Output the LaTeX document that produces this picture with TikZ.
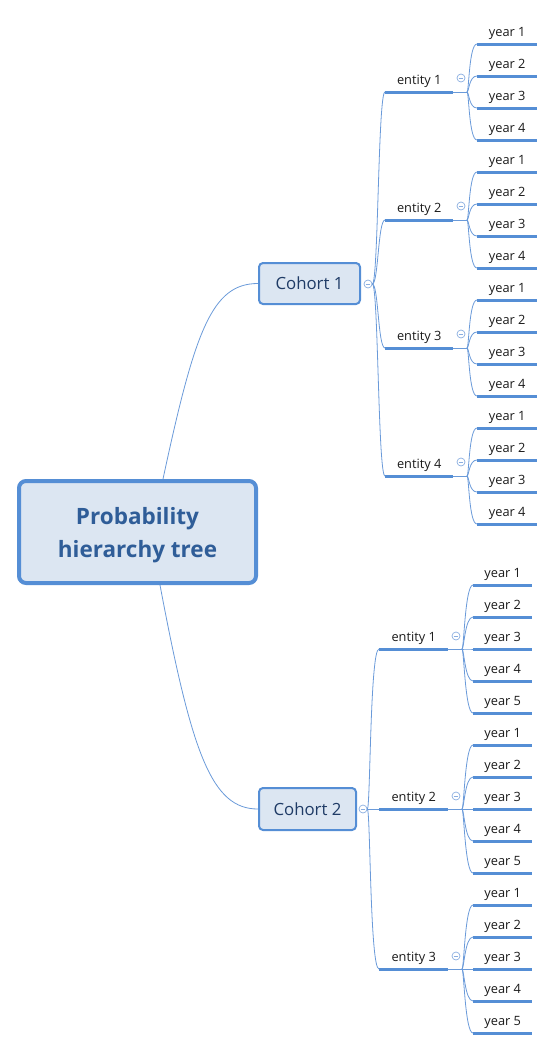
\documentclass[tikz,border=0pt]{standalone}
\usepackage{fontspec}
\setmainfont{Open Sans}
\definecolor{lnc}{HTML}{6A9AD9}
\definecolor{ulc}{HTML}{558ED5}
\definecolor{boxfill}{HTML}{DCE6F2}
\definecolor{bdc}{HTML}{558ED5}
\definecolor{roottxt}{HTML}{2F5D98}
\definecolor{cotxt}{HTML}{1F3B66}
\definecolor{btnc}{HTML}{8AAEE0}
\definecolor{txtc}{HTML}{1A1A1A}
\tikzset{
  rootbox/.style={draw=bdc, line width=4pt, fill=boxfill, rounded corners=7pt,
    minimum width=237pt, minimum height=102pt, inner sep=0pt, align=center,
    text=roottxt, font=\fontsize{22.5}{33}\selectfont\bfseries},
  cobox/.style={draw=bdc, line width=2pt, fill=boxfill, rounded corners=4pt,
    minimum height=41pt, inner sep=0pt, text=cotxt, font=\fontsize{16.8}{18}\selectfont},
  topic/.style={inner xsep=0pt, inner ysep=7.8pt, text height=9pt, text depth=0pt,
    text=txtc, font=\fontsize{12.8}{14}\selectfont, anchor=south west},
  ul/.style={draw=ulc, line width=3pt},
  conn/.style={draw=lnc, line width=0.8pt},
  btn/.style={circle, draw=btnc, fill=white, line width=0.7pt, minimum size=8pt, inner sep=0pt,
    path picture={\draw[btnc, line width=0.7pt] ([xshift=-2.3pt]path picture bounding box.center) -- ([xshift=2.3pt]path picture bounding box.center);}},
}
\begin{document}
\begin{tikzpicture}[x=1pt,y=-1pt]
\useasboundingbox (0,0) rectangle (555,1050);

% root
\node[rootbox] (root) at (137.5,532) {\rule{0pt}{24pt}Probability\\hierarchy tree};

% cohorts
\node[cobox, minimum width=101pt] (c1) at (309.5,283.5) {Cohort 1};
\node[cobox, minimum width=97pt, minimum height=42pt] (c2) at (307.5,809) {Cohort 2};
\node[btn] (c1btn) at (368,284) {};
\node[btn] (c2btn) at (363,809) {};

\draw[conn] ([xshift=25.5pt]root.north) .. controls +(32,-149) and +(-46,0) .. (c1.west);
\draw[conn] ([xshift=22.5pt]root.south) .. controls +(32,170) and +(-46,0) .. (c2.west);

% cohort 1 : four entities, four years each
\foreach \i in {1,...,4}{
  \pgfmathsetmacro{\ey}{92+128*(\i-1)}
  \node[topic, minimum width=68pt] (c1e\i) at (385,\ey) {entity \i};
  \draw[ul] (c1e\i.south west) -- (c1e\i.south east);
  \draw[conn] (c1btn.east) .. controls +(6,0) and +(-7,0) .. (c1e\i.south west);
  \node[btn] (c1e\i btn) at (461,\ey-14) {};
  \coordinate (c1e\i fork) at (467,\ey);
  \draw[conn] (c1e\i.south east) -- (c1e\i fork);
  \foreach \j in {1,...,4}{
    \pgfmathsetmacro{\yy}{\ey-48+32*(\j-1)}
    \node[topic, minimum width=60pt] (c1e\i y\j) at (477,\yy) {year \j};
    \draw[ul] (c1e\i y\j.south west) -- (c1e\i y\j.south east);
    \draw[conn] (c1e\i fork) .. controls +(2,0) and +(-8,0) .. (c1e\i y\j.south west);
  }
}

% cohort 2 : three entities, five years each
\foreach \i in {1,...,3}{
  \pgfmathsetmacro{\ey}{649+160*(\i-1)}
  \node[topic, minimum width=69pt] (c2e\i) at (379,\ey) {entity \i};
  \draw[ul] (c2e\i.south west) -- (c2e\i.south east);
  \draw[conn] (c2btn.east) .. controls +(3,0) and +(-9,0) .. (c2e\i.south west);
  \node[btn] (c2e\i btn) at (456,\ey-13) {};
  \coordinate (c2e\i fork) at (462,\ey);
  \draw[conn] (c2e\i.south east) -- (c2e\i fork);
  \foreach \j in {1,...,5}{
    \pgfmathsetmacro{\yy}{\ey-64+32*(\j-1)}
    \node[topic, minimum width=59pt] (c2e\i y\j) at (473,\yy) {year \j};
    \draw[ul] (c2e\i y\j.south west) -- (c2e\i y\j.south east);
    \draw[conn] (c2e\i fork) .. controls +(2,0) and +(-8,0) .. (c2e\i y\j.south west);
  }
}
\end{tikzpicture}
\end{document}
